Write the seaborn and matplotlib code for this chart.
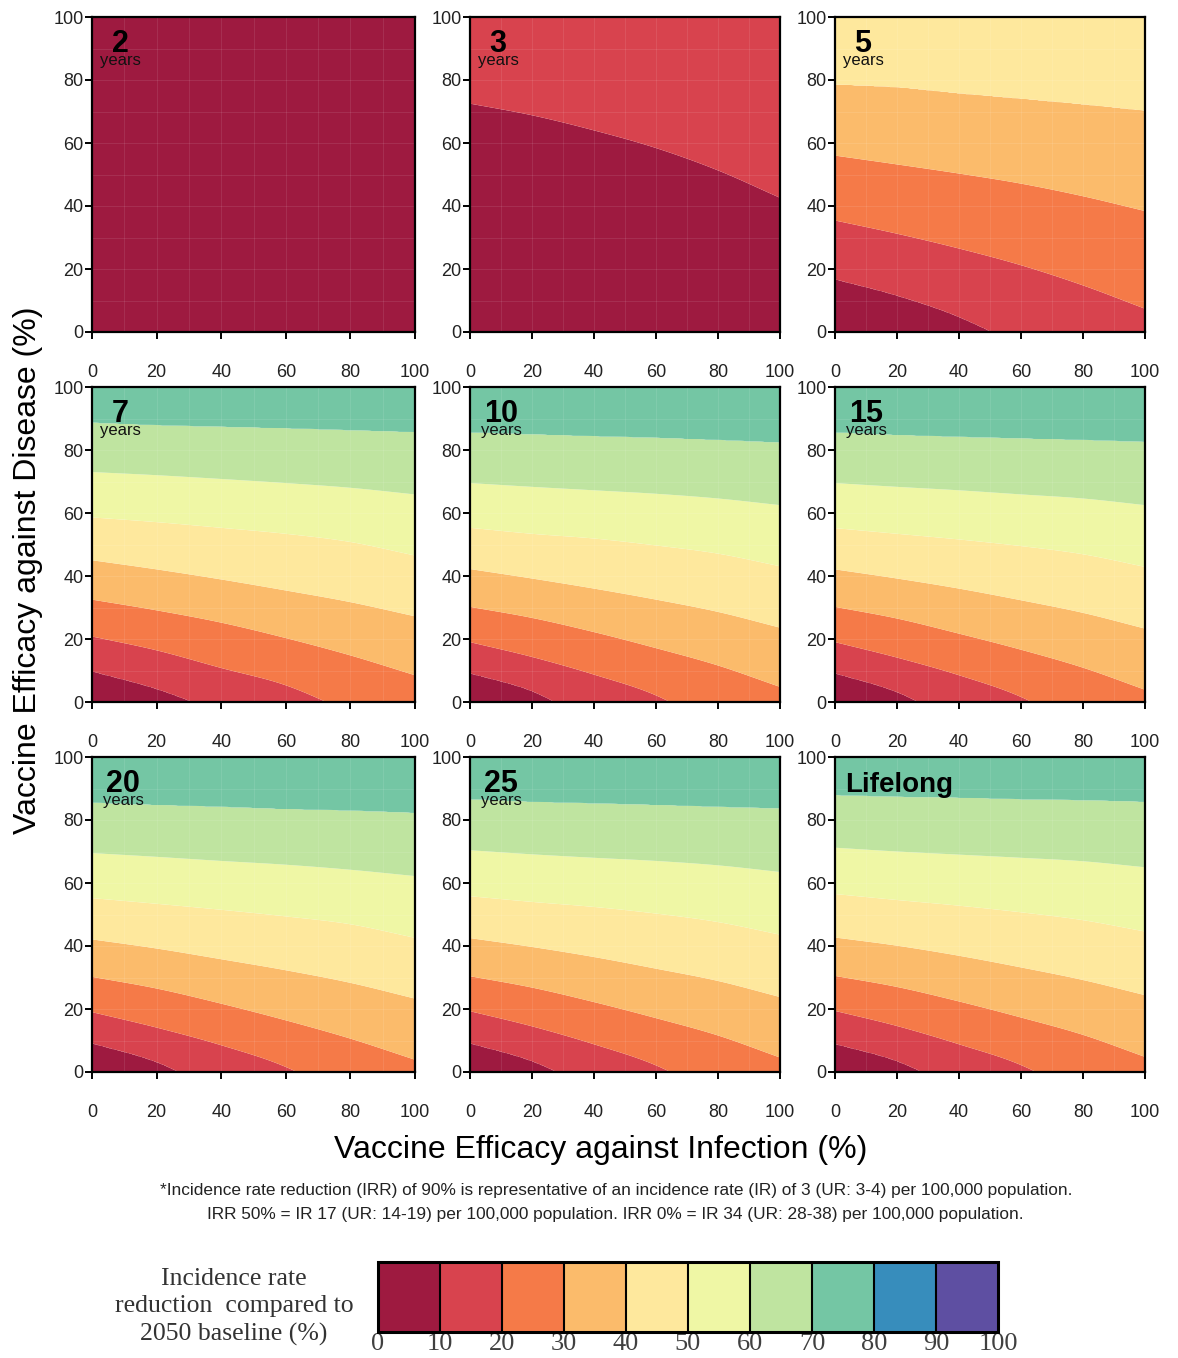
import numpy as np
import matplotlib
matplotlib.use("Agg")
import matplotlib.pyplot as plt
from matplotlib.colors import ListedColormap, BoundaryNorm
from matplotlib.cm import ScalarMappable
import seaborn as sns

# ---------------- data ----------------
levels = [0, 10, 20, 30, 40, 50, 60, 70, 80, 90, 100]
band_colors = ["#9e1a40", "#d8434e", "#f57a48", "#fbbb6b", "#fee89d",
               "#eff7a5", "#bfe4a0", "#74c6a4", "#378dbc", "#5e4fa2"]
x_knots = [0, 20, 40, 60, 80, 100]          # VE against infection (%)
panel_labels = ["2", "3", "5", "7", "10", "15", "20", "25", "Lifelong"]

# contour boundaries: level -> VE against disease (%) at x_knots
b_2 = {}
b_3 = {10: [72.5, 68.8, 64.0, 58.4, 51.3, 42.6]}
b_5 = {10: [16.8, 11.6, 4.8, -5.0, -18.0, -32.0],
       20: [35.4, 31.2, 26.5, 21.2, 14.8, 7.4],
       30: [56.0, 53.2, 50.3, 47.1, 43.1, 38.4],
       40: [78.5, 77.6, 75.7, 74.0, 72.2, 70.2]}
b_7 = {10: [9.8, 4.2, -3.4, -11.0, -19.0, -28.0],
       20: [20.8, 16.4, 10.8, 5.3, -3.5, -13.0],
       30: [32.5, 29.1, 25.2, 20.3, 14.8, 8.5],
       40: [45.0, 42.1, 38.9, 35.4, 31.7, 27.2],
       50: [58.6, 57.1, 55.3, 53.4, 50.8, 46.5],
       60: [73.0, 72.0, 70.8, 69.5, 68.0, 65.9],
       70: [88.6, 87.8, 87.3, 86.8, 86.2, 85.6]}
b_10 = {10: [9.2, 3.5, -6.5, -14.0, -23.0, -32.0],
        20: [19.0, 14.3, 8.7, 2.1, -8.4, -19.0],
        30: [30.2, 26.7, 22.2, 17.1, 11.6, 4.8],
        40: [42.2, 39.2, 36.0, 32.5, 28.6, 23.6],
        50: [55.3, 53.4, 51.9, 49.7, 47.1, 43.1],
        60: [69.5, 68.3, 67.2, 66.1, 64.6, 62.5],
        70: [85.5, 84.9, 84.3, 83.8, 83.1, 82.3]}
b_15 = {10: [9.2, 3.2, -6.5, -14.0, -23.0, -32.0],
        20: [19.0, 14.1, 8.5, 1.6, -9.0, -20.0],
        30: [30.2, 26.5, 21.7, 16.6, 10.9, 3.9],
        40: [42.1, 39.2, 36.0, 32.3, 28.3, 23.3],
        50: [55.2, 53.4, 51.6, 49.5, 46.9, 42.9],
        60: [69.5, 68.3, 67.2, 65.9, 64.6, 62.5],
        70: [85.5, 84.7, 84.1, 83.6, 83.1, 82.5]}
b_20 = {10: [9.2, 3.2, -6.5, -14.0, -23.0, -32.0],
        20: [19.0, 14.1, 8.5, 1.6, -9.0, -20.0],
        30: [30.2, 26.5, 21.7, 16.4, 10.6, 3.9],
        40: [42.1, 39.2, 35.8, 32.3, 28.3, 23.3],
        50: [55.2, 53.4, 51.5, 49.4, 46.9, 42.6],
        60: [69.5, 68.3, 67.0, 65.8, 64.2, 62.2],
        70: [85.4, 84.7, 84.1, 83.4, 82.9, 82.2]}
b_25 = {10: [9.2, 3.5, -5.5, -13.0, -22.0, -31.0],
        20: [19.3, 14.5, 8.8, 2.1, -8.0, -19.0],
        30: [30.4, 26.8, 22.2, 17.1, 11.6, 4.6],
        40: [42.5, 39.7, 36.5, 32.8, 28.9, 23.8],
        50: [55.8, 54.0, 52.4, 50.3, 47.6, 43.6],
        60: [70.4, 69.1, 68.0, 67.0, 65.6, 63.5],
        70: [86.5, 85.7, 85.2, 84.7, 84.1, 83.6]}
b_life = {10: [9.0, 3.5, -5.5, -13.0, -22.0, -31.0],
          20: [19.4, 14.6, 8.8, 2.2, -8.0, -19.0],
          30: [30.5, 27.0, 22.4, 17.3, 11.8, 4.8],
          40: [42.7, 40.1, 36.9, 33.2, 29.2, 24.4],
          50: [56.5, 54.6, 52.8, 50.7, 48.2, 44.6],
          60: [71.2, 70.0, 69.0, 68.0, 66.9, 65.0],
          70: [87.8, 87.3, 87.0, 86.5, 86.2, 85.7]}
panel_bounds = [b_2, b_3, b_5, b_7, b_10, b_15, b_20, b_25, b_life]

# ---------------- helpers ----------------
xs = np.linspace(0, 100, 401)
ys = np.linspace(0, 100, 401)


def smooth_curve(xk, vk, xq):
    """Catmull-Rom curve through the read boundary points."""
    xk = np.asarray(xk, float)
    vk = np.asarray(vk, float)
    ext = np.concatenate([[2 * vk[0] - vk[1]], vk, [2 * vk[-1] - vk[-2]]])
    h = xk[1] - xk[0]
    idx = np.clip(((xq - xk[0]) // h).astype(int), 0, len(xk) - 2)
    t = (xq - xk[idx]) / h
    p0, p1, p2, p3 = ext[idx], ext[idx + 1], ext[idx + 2], ext[idx + 3]
    return 0.5 * (2 * p1 + (-p0 + p2) * t + (2 * p0 - 5 * p1 + 4 * p2 - p3) * t ** 2
                  + (-p0 + 3 * p1 - 3 * p2 + p3) * t ** 3)


def build_surface(bounds):
    if not bounds:
        return np.full((len(ys), len(xs)), 5.0)
    lv = sorted(bounds)
    Yb = np.array([smooth_curve(x_knots, bounds[l], xs) for l in lv])
    Z = np.empty((len(ys), len(xs)))
    for j in range(len(xs)):
        yk = np.concatenate([[Yb[0, j] - 200], Yb[:, j], [Yb[-1, j] + 200]])
        vk = np.concatenate([[lv[0] - 10], lv, [lv[-1] + 10]])
        Z[:, j] = np.interp(ys, yk, vk)
    return Z


sns.set_theme(style="ticks")
plt.rcParams["font.family"] = ["Liberation Sans", "DejaVu Sans"]

cmap = ListedColormap(sns.color_palette(band_colors))
norm = BoundaryNorm(levels, cmap.N)

W, H = 1178, 1358
fig = plt.figure(figsize=(W / 100, H / 100), dpi=100)

col_px = [(92, 323), (470, 310), (835, 310)]
row_top_px = [17, 387, 757]
axh = 315

for i, (lab, bnd) in enumerate(zip(panel_labels, panel_bounds)):
    r, c = divmod(i, 3)
    left, wpx = col_px[c]
    top = row_top_px[r]
    ax = fig.add_axes([left / W, 1 - (top + axh) / H, wpx / W, axh / H])
    Z = build_surface(bnd)
    ax.contourf(xs, ys, Z, levels=levels, cmap=cmap, norm=norm, antialiased=True)
    ax.set_xlim(0, 100)
    ax.set_ylim(0, 100)
    ax.set_xticks(range(0, 101, 20))
    ax.set_yticks(range(0, 101, 20))
    ax.set_xticks(range(0, 101, 10), minor=True)
    ax.set_yticks(range(0, 101, 10), minor=True)
    ax.grid(which="both", color="white", alpha=0.09, lw=0.8)
    ax.set_axisbelow(False)
    for sp in ax.spines.values():
        sp.set_linewidth(1.6)
        sp.set_color("black")
        sp.set_zorder(5)
    ax.tick_params(which="major", direction="out", length=5, width=1.4,
                   labelsize=13, color="black", labelcolor="#222222")
    ax.tick_params(which="minor", length=0)
    ax.tick_params(axis="x", pad=18)
    ax.tick_params(axis="y", pad=1)
    if lab == "Lifelong":
        ax.annotate(lab, xy=(0, 1), xycoords="axes fraction", xytext=(10, -35),
                    textcoords="offset pixels", ha="left", va="baseline",
                    fontsize=20, fontweight="bold", color="black")
    else:
        xo = 28 if len(lab) == 1 else 31
        ax.annotate(lab, xy=(0, 1), xycoords="axes fraction", xytext=(xo, -35),
                    textcoords="offset pixels", ha="center", va="baseline",
                    fontsize=22, fontweight="bold", color="black")
        ax.annotate("years", xy=(0, 1), xycoords="axes fraction", xytext=(xo, -48),
                    textcoords="offset pixels", ha="center", va="baseline",
                    fontsize=12, color="#111111")

fig.text(28 / W, 1 - 570 / H, "Vaccine Efficacy against Disease (%)", rotation=90,
         ha="center", va="center", fontsize=23, color="black")
fig.text(601 / W, 1 - 1150 / H, "Vaccine Efficacy against Infection (%)",
         ha="center", va="center", fontsize=23, color="black")

note_family = ["Liberation Sans Narrow", "Liberation Sans", "DejaVu Sans"]
fig.text(616 / W, 1 - 1190 / H,
         "*Incidence rate reduction (IRR) of 90% is representative of an incidence rate (IR) of 3 (UR: 3-4) per 100,000 population.",
         ha="center", va="center", fontsize=12.4, color="#222222", family=note_family)
fig.text(615 / W, 1 - 1215 / H,
         "IRR 50% = IR 17 (UR: 14-19) per 100,000 population. IRR 0% = IR 34 (UR: 28-38) per 100,000 population.",
         ha="center", va="center", fontsize=12.4, color="#222222", family=note_family)

# colourbar
cax = fig.add_axes([378 / W, 1 - 1332 / H, 620 / W, 70 / H])
cb = fig.colorbar(ScalarMappable(norm=norm, cmap=cmap), cax=cax,
                  orientation="horizontal", ticks=levels, drawedges=True)
cb.outline.set_linewidth(2.2)
cb.outline.set_edgecolor("black")
cb.dividers.set_color("black")
cb.dividers.set_linewidth(1.5)
cax.tick_params(length=0, pad=1, labelsize=19, labelcolor="#404040")
for t in cax.get_xticklabels():
    t.set_family(["Liberation Serif", "DejaVu Serif"])

fig.text(234 / W, 1 - 1307 / H, "Incidence rate\nreduction  compared to\n2050 baseline (%)",
         ha="center", va="center", fontsize=18.5, color="#333333",
         family=["Liberation Serif", "DejaVu Serif"], linespacing=1.3)

fig.savefig("out.png", dpi=100)
